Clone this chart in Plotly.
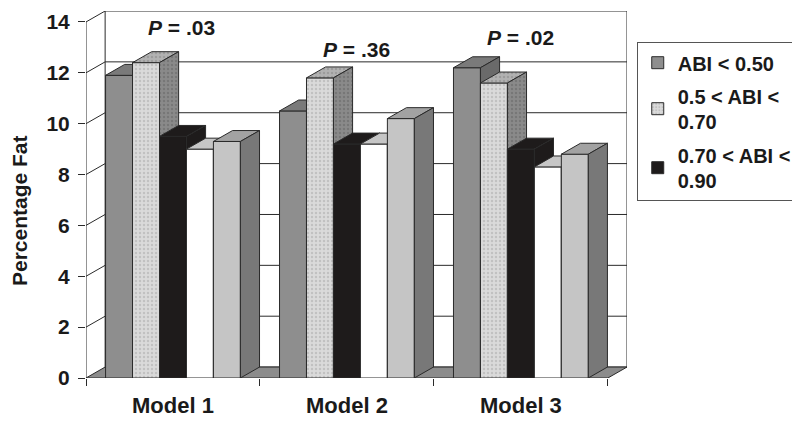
import plotly.graph_objects as go

# ---- data ----
models = ["Model 1", "Model 2", "Model 3"]
series_names = ["ABI < 0.50", "0.5 < ABI <<br>0.70", "0.70 < ABI <<br>0.90",
                "0.90 < ABI < 1.30", "ABI > 1.30"]
abi_lt_050 = [11.9, 10.5, 12.2]
abi_050_070 = [12.4, 11.8, 11.6]
abi_070_090 = [9.5, 9.2, 9.0]
abi_090_130 = [9.0, 9.2, 8.3]
abi_gt_130 = [9.3, 10.2, 8.8]
p_labels = ["<i>P</i> = .03", "<i>P</i> = .36", "<i>P</i> = .02"]
y_ticks = [0, 2, 4, 6, 8, 10, 12, 14]

series_values = [abi_lt_050, abi_050_070, abi_070_090, abi_090_130, abi_gt_130]
show_in_legend = [True, True, True, False, False]

# ---- styling ----
FONT = "Liberation Sans, Arial, sans-serif"
EDGE = "#2a2a2a"
DX, DY = 0.11, 0.43     # pseudo-3D depth in axis units
BW = 0.155              # bar width
YMAX = max(y_ticks)
XMIN, XMAX = -0.5, len(models) - 0.5

styles = [
    dict(front="#8e8e8e", top="#7a7a7a", side="#6a6a6a", dots=None),
    dict(front="#dadada", top="#b2b2b2", side="#8a8a8a", dots=("#a8a8a8", "#858585", "#646464")),
    dict(front="#1e1b1b", top="#1e1b1b", side="#1e1b1b", dots=None),
    dict(front="#ffffff", top="#c6c6c6", side="#9a9a9a", dots=None),
    dict(front="#c5c5c5", top="#a2a2a2", side="#787878", dots=None),
]

fig = go.Figure()


def poly(xs, ys, color, dot=None):
    kw = {}
    if dot is not None:
        kw["fillpattern"] = dict(shape=".", fgcolor=dot, bgcolor=color, size=4, solidity=0.3)
    fig.add_trace(go.Scatter(
        x=xs, y=ys, mode="lines", fill="toself", fillcolor=color,
        line=dict(color=EDGE, width=1), showlegend=False, hoverinfo="skip", **kw))


for g in range(len(models)):
    for i, vals in enumerate(series_values):
        st = styles[i]
        v = vals[g]
        x0 = g + (i - (len(series_values) - 1) / 2) * BW - BW / 2
        x1 = x0 + BW
        d = st["dots"]
        poly([x0, x1, x1, x0, x0], [0, 0, v, v, 0], st["front"], d[0] if d else None)
        poly([x0, x1, x1 + DX, x0 + DX, x0], [v, v, v + DY, v + DY, v], st["top"], d[1] if d else None)
        poly([x1, x1 + DX, x1 + DX, x1, x1], [0, DY, v + DY, v, 0], st["side"], d[2] if d else None)

# legend entries
for i, name in enumerate(series_names):
    st = styles[i]
    marker = dict(color=st["front"], line=dict(color=EDGE, width=1))
    if st["dots"]:
        marker["pattern"] = dict(shape=".", fgcolor=st["dots"][0], bgcolor=st["front"], size=4, solidity=0.3)
    fig.add_trace(go.Bar(x=[None], y=[None], name=name, marker=marker,
                         legendgroup=f"g{i}", showlegend=show_in_legend[i]))

# ---- walls, floor, gridlines ----
shapes = []
shapes.append(dict(type="rect", xref="x", yref="y", x0=XMIN + DX, x1=XMAX + DX, y0=DY, y1=YMAX + DY,
                   fillcolor="white", line=dict(color=EDGE, width=1), layer="below"))
floor_path = (f"M{XMIN},0 L{XMAX},0 L{XMAX + DX},{DY} L{XMIN + DX},{DY} Z")
shapes.append(dict(type="path", xref="x", yref="y", path=floor_path,
                   fillcolor="#8c8c8c", line=dict(color=EDGE, width=1), layer="below"))
for t in y_ticks:
    if 0 < t < YMAX:
        shapes.append(dict(type="line", xref="x", yref="y", x0=XMIN + DX, x1=XMAX + DX,
                           y0=t + DY, y1=t + DY, line=dict(color=EDGE, width=1), layer="below"))
    if t > 0:
        shapes.append(dict(type="line", xref="x", yref="y", x0=XMIN, x1=XMIN + DX,
                           y0=t, y1=t + DY, line=dict(color=EDGE, width=1), layer="below"))
shapes.append(dict(type="line", xref="x", yref="y", x0=XMIN, x1=XMIN, y0=0, y1=YMAX,
                   line=dict(color=EDGE, width=1), layer="below"))

# ---- annotations ----
annotations = []
p_pos = [(0.05, 13.8), (1.057, 12.9), (2.0, 13.37)]
for (px, py), txt in zip(p_pos, p_labels):
    annotations.append(dict(x=px, y=py, xref="x", yref="y", text=txt, showarrow=False,
                            font=dict(family=FONT, size=21, color="#1a1a1a", weight="bold")))
annotations.append(dict(x=-0.124, y=6.6, xref="paper", yref="y", text="Percentage Fat",
                        textangle=-90, showarrow=False, xanchor="center", yanchor="middle",
                        font=dict(family=FONT, size=21, color="#1a1a1a", weight="bold")))

# page body has an 8px margin: figure is 792x415 so it sits exactly in the 800x423 window
fig.update_layout(
    width=792, height=415,
    margin=dict(l=78, r=173, t=3, b=45, autoexpand=False),
    paper_bgcolor="white", plot_bgcolor="white",
    barmode="overlay",
    shapes=shapes, annotations=annotations,
    showlegend=True,
    legend=dict(x=1.018, y=0.915, xanchor="left", yanchor="top",
                bordercolor="#555", borderwidth=1, bgcolor="white",
                font=dict(family=FONT, size=20, color="#1a1a1a", weight="bold"),
                traceorder="grouped", tracegroupgap=4, itemwidth=30),
    xaxis=dict(range=[XMIN, XMAX + DX], tickmode="array", tickvals=list(range(len(models))),
               ticktext=models, ticks="", showgrid=False, zeroline=False, showline=False,
               automargin=False,
               tickfont=dict(family=FONT, size=22, color="#1a1a1a", weight="bold"),
               ticklabelstandoff=12,
               minor=dict(tickmode="array", tickvals=[XMIN + k for k in range(len(models) + 1)],
                          ticks="outside", ticklen=7, tickcolor=EDGE, tickwidth=1, showgrid=False)),
    yaxis=dict(range=[0, YMAX + DY], tickmode="array", tickvals=y_ticks,
               ticks="outside", ticklen=7, tickcolor=EDGE, tickwidth=1,
               showgrid=False, zeroline=False, showline=False, automargin=False,
               tickfont=dict(family=FONT, size=21, color="#1a1a1a", weight="bold"),
               ticklabelstandoff=4),
)

fig.write_html("out.html")
